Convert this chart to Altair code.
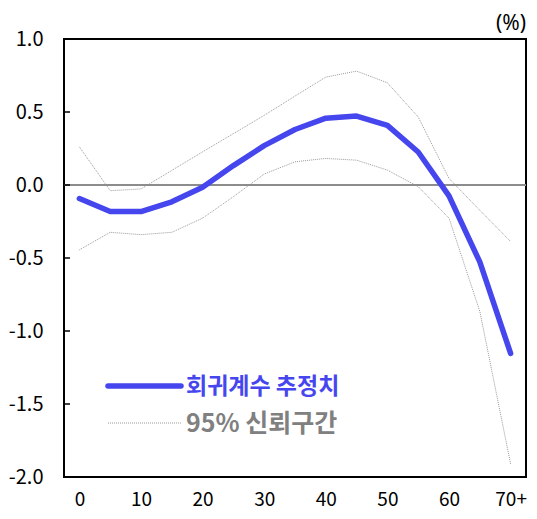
import altair as alt
import pandas as pd

# ---- data ----
ages = [0, 5, 10, 15, 20, 25, 30, 35, 40, 45, 50, 55, 60, 65, 70]
coef = [-0.093, -0.182, -0.182, -0.115, -0.015, 0.133, 0.270, 0.380, 0.458, 0.472,
        0.408, 0.226, -0.075, -0.527, -1.153]
upper = [0.261, -0.039, -0.027, 0.100, 0.227, 0.352, 0.477, 0.609, 0.739, 0.780,
         0.700, 0.466, 0.045, -0.173, -0.387]
lower = [-0.444, -0.324, -0.340, -0.324, -0.227, -0.080, 0.075, 0.159, 0.182, 0.170,
         0.102, -0.011, -0.227, -0.865, -1.910]

x_ticks = [0, 10, 20, 30, 40, 50, 60, 70]
x_tick_labels = ["0", "10", "20", "30", "40", "50", "60", "70+"]
y_ticks = [-2.0, -1.5, -1.0, -0.5, 0.0, 0.5, 1.0]

legend_labels = ["회귀계수 추정치", "95% 신뢰구간"]
unit_label = "(%)"

BLUE = "#4646EE"
GRAY_TXT = "#808080"
CI_GRAY = "#9a9a9a"
FONT = "Noto Sans CJK KR"

W, H = 462, 438

# ---- tables ----
main_df = pd.DataFrame({"age": ages, "value": coef})
ci_df = pd.concat([
    pd.DataFrame({"age": ages, "value": upper, "band": "upper"}),
    pd.DataFrame({"age": ages, "value": lower, "band": "lower"}),
])

# x label expression built from the tick lists
expr = "datum.label"
for v, lab in zip(reversed(x_ticks), reversed(x_tick_labels)):
    expr = f"datum.value == {v} ? '{lab}' : ({expr})"

xscale = alt.Scale(domain=[-2.5, 72.5], nice=False, zero=False)
yscale = alt.Scale(domain=[-2.0, 1.0], nice=False, zero=False)

x_axis = alt.Axis(values=x_ticks, labelExpr=expr, title=None, grid=False, ticks=False,
                  domain=False, labelFontSize=19, labelFont=FONT, labelColor="black",
                  labelPadding=13)
y_axis = alt.Axis(values=y_ticks, labelExpr="replace(format(datum.value, '.1f'), '\u2212', '-')",
                  title=None, grid=False, ticks=False, domain=False, labelFontSize=20,
                  labelFont=FONT, labelColor="black", labelPadding=21)

X = alt.X("age:Q", scale=xscale, axis=x_axis)
Y = alt.Y("value:Q", scale=yscale, axis=y_axis)

ci = alt.Chart(ci_df).mark_line(color=CI_GRAY, strokeWidth=1, strokeDash=[1, 1]).encode(
    x=X, y=Y, detail="band:N",
)

zero = alt.Chart(pd.DataFrame({"value": [0.0]})).mark_rule(color="#8c8c8c", strokeWidth=2).encode(
    y=Y
)

ticks = alt.Chart(pd.DataFrame({"value": y_ticks})).mark_rule(color="black", strokeWidth=1.5).encode(
    y=Y, x=alt.value(0), x2=alt.value(6)
)

main = alt.Chart(main_df).mark_line(color=BLUE, strokeWidth=5.5, strokeCap="round",
                                    strokeJoin="round").encode(x=X, y=Y)

# ---- legend (inside plot) ----
leg_main_line = alt.Chart(pd.DataFrame({"t": [legend_labels[0]]})).mark_rule(
    color=BLUE, strokeWidth=5.5, strokeCap="round").encode(
    x=alt.value(44), x2=alt.value(117), y=alt.value(347))
leg_main_text = alt.Chart(pd.DataFrame({"t": [legend_labels[0]]})).mark_text(
    align="left", baseline="middle", fontSize=23, font=FONT, fontWeight="bold", color=BLUE).encode(
    text="t:N", x=alt.value(122), y=alt.value(348))
leg_ci_line = alt.Chart(pd.DataFrame({"t": [legend_labels[1]]})).mark_rule(
    color=CI_GRAY, strokeWidth=1, strokeDash=[1, 1]).encode(
    x=alt.value(44), x2=alt.value(117), y=alt.value(384))
leg_ci_text = alt.Chart(pd.DataFrame({"t": [legend_labels[1]]})).mark_text(
    align="left", baseline="middle", fontSize=25, font=FONT, fontWeight="bold", color=GRAY_TXT).encode(
    text="t:N", x=alt.value(122), y=alt.value(385))

unit = alt.Chart(pd.DataFrame({"t": [unit_label]})).mark_text(
    align="right", baseline="middle", fontSize=21, font="Noto Sans", color="black").encode(
    text="t:N", x=alt.value(462), y=alt.value(-15))

chart = alt.layer(
    ci, zero, ticks, main, leg_main_line, leg_main_text, leg_ci_line, leg_ci_text, unit
).properties(
    width=W, height=H,
    autosize="none",
    padding={"left": 56, "top": 31, "right": 3, "bottom": 34},
    background="white",
).configure_view(stroke="black", strokeWidth=2)

chart.save("out.html", embed_options={"renderer": "svg", "actions": False})
